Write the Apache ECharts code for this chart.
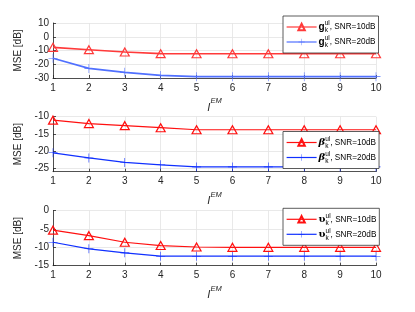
<!DOCTYPE html>
<html><head><meta charset="utf-8">
<script src="https://cdn.jsdelivr.net/npm/echarts@6/dist/echarts.min.js"></script>
<style>html,body{margin:0;padding:0;background:#fff}#c{width:415px;height:312px}</style>
</head><body><div id="c"></div>
<script>
const iterations = [1,2,3,4,5,6,7,8,9,10];
const g10 = [-7.7,-9.4,-11.1,-12.3,-12.4,-12.4,-12.4,-12.4,-12.4,-12.4];
const g20 = [-15.7,-23.0,-25.9,-28.1,-29.0,-29.0,-29.0,-29.0,-29.0,-29.0];
const b10 = [-11.0,-12.0,-12.6,-13.2,-13.8,-13.8,-13.8,-13.8,-13.8,-13.8];
const b20 = [-20.5,-22.0,-23.3,-24.0,-24.6,-24.6,-24.6,-24.6,-24.6,-24.6];
const u10 = [-5.3,-6.8,-8.6,-9.5,-9.9,-10.0,-10.0,-10.0,-10.0,-10.0];
const u20 = [-8.6,-10.4,-11.5,-12.4,-12.4,-12.4,-12.4,-12.4,-12.4,-12.4];
const yTicks1 = [-30,-20,-10,0,10];
const yTicks2 = [-25,-20,-15,-10];
const yTicks3 = [-15,-10,-5,0];

const FONT = 'Liberation Sans, Arial, sans-serif';
const axisCol = '#262626';
const gridCol = '#e3e3e3';
const plusPath = 'path://M4.4,0h0.6v4.4h4.4v0.6h-4.4v4.4h-0.6v-4.4h-4.4v-0.6h4.4z';

const grids = [
  {left:53, right:39, top:23, height:55},
  {left:53, right:39, top:116.7, height:55},
  {left:53, right:39, top:210.7, height:55}
];
const yRanges = [[-30,10,10,yTicks1],[-26,-10,5,yTicks2],[-15,0,5,yTicks3]];

const xAxes = grids.map((g,i)=>({
  type:'value', gridIndex:i, min:1, max:10, interval:1,
  name:'{i|I}{sup|EM}', nameLocation:'middle', nameGap:19,
  nameTextStyle:{rich:{
    i:{fontFamily:FONT,fontStyle:'italic',fontSize:11,color:axisCol,lineHeight:16,verticalAlign:'bottom'},
    sup:{fontFamily:FONT,fontStyle:'italic',fontSize:7.5,color:axisCol,lineHeight:8,verticalAlign:'top'}
  }},
  axisLine:{show:true,onZero:false,lineStyle:{color:axisCol,width:0.8}},
  axisTick:{show:true,inside:true,length:3,lineStyle:{color:axisCol,width:0.8}},
  axisLabel:{fontFamily:FONT,fontSize:10,color:axisCol,margin:5},
  splitLine:{show:true,lineStyle:{color:gridCol,width:0.8}}
}));
const yAxes = yRanges.map((r,i)=>({
  type:'value', gridIndex:i, min:r[0], max:r[1],
  interval: i===1 ? undefined : r[2],
  name:'MSE [dB]', nameLocation:'middle', nameGap:21,
  nameTextStyle:{fontFamily:FONT,fontSize:10,color:axisCol},
  axisLine:{show:true,lineStyle:{color:axisCol,width:0.8}},
  axisTick:{show:true,inside:true,length:3,lineStyle:{color:axisCol,width:0.8}, customValues: r[3]},
  axisLabel:{fontFamily:FONT,fontSize:10,color:axisCol,margin:4, customValues: r[3]},
  splitLine:{show:true,lineStyle:{color:gridCol,width:0.8}, customValues: r[3]}
}));

function pairs(arr){ return iterations.map((x,k)=>[x,arr[k]]); }

const defs = [
  {name:'g10', data:g10, grid:0, red:true, col:'#ff3a3a', w:1.6},
  {name:'g20', data:g20, grid:0, red:false, col:'#5070ff', w:1.6},
  {name:'b10', data:b10, grid:1, red:true, col:'#ff1010', w:1.2},
  {name:'b20', data:b20, grid:1, red:false, col:'#1030ff', w:1.2},
  {name:'u10', data:u10, grid:2, red:true, col:'#ff1010', w:1.2},
  {name:'u20', data:u20, grid:2, red:false, col:'#1030ff', w:1.2}
];
const series = defs.map(d=>({
  type:'line', name:d.name, xAxisIndex:d.grid, yAxisIndex:d.grid,
  data:pairs(d.data), smooth:false,
  symbol: d.red ? 'triangle' : plusPath,
  symbolSize: d.red ? [9,8] : 9,
  showSymbol:true,
  lineStyle:{color:d.col,width:d.w},
  itemStyle: d.red ? {color:'rgba(255,255,255,0)', borderColor:d.col, borderWidth:1.2} : {color:d.col, borderWidth:0},
  emphasis:{disabled:true},
  z: d.red ? 3 : 2,
  animation:false
}));

const labelMap = {
  g10:['g','ul','10'], g20:['g','ul','20'],
  b10:['β','ul','10'], b20:['β','ul','20'],
  u10:['υ','ul','10'], u20:['υ','ul','20']
};
const rich = {
  g:{fontFamily:FONT,fontWeight:'bold',fontSize:10,color:'#000',lineHeight:14,verticalAlign:'middle'},
  bi:{fontFamily:'DejaVu Serif, serif',fontWeight:'bold',fontStyle:'italic',fontSize:10,color:'#000',lineHeight:14,verticalAlign:'middle'},
  u:{fontFamily:'DejaVu Serif, serif',fontWeight:'bold',fontSize:10,color:'#000',lineHeight:14,verticalAlign:'middle'},
  sub:{fontFamily:FONT,fontSize:6.5,color:'#000',lineHeight:7,verticalAlign:'bottom',width:0},
  sup:{fontFamily:FONT,fontSize:6.5,color:'#000',lineHeight:7,verticalAlign:'top'},
  t:{fontFamily:FONT,fontSize:8.2,color:'#000',lineHeight:14,verticalAlign:'middle'}
};
function fmt(n){
  const m = labelMap[n];
  const key = m[0]==='g' ? 'g' : (m[0]==='β' ? 'bi' : 'u');
  return '{'+key+'|'+m[0]+'}{sub|k}{sup|'+m[1]+'}{t|, SNR='+m[2]+'dB}';
}
const legendTops = [16, 131.5, 208.3];
const legendNames = [['g10','g20'],['b10','b20'],['u10','u20']];
const legends = legendNames.map((names,i)=>({
  data:names, orient:'vertical', left:283, top:legendTops[i],
  padding:[4,3,4,3], itemGap:1, itemWidth:30, itemHeight:8,
  backgroundColor:'#fff', borderColor:'#333', borderWidth:0.8,
  selectedMode:false,
  lineStyle:{width:1.2},
  textStyle:{rich:rich, padding:[0,0,0,-3]},
  formatter:fmt
}));

const chart = echarts.init(document.getElementById('c'), null, {renderer:'canvas'});
chart.setOption({
  animation:false,
  backgroundColor:'#fff',
  grid:grids, xAxis:xAxes, yAxis:yAxes, series:series, legend:legends
});
</script></body></html>
